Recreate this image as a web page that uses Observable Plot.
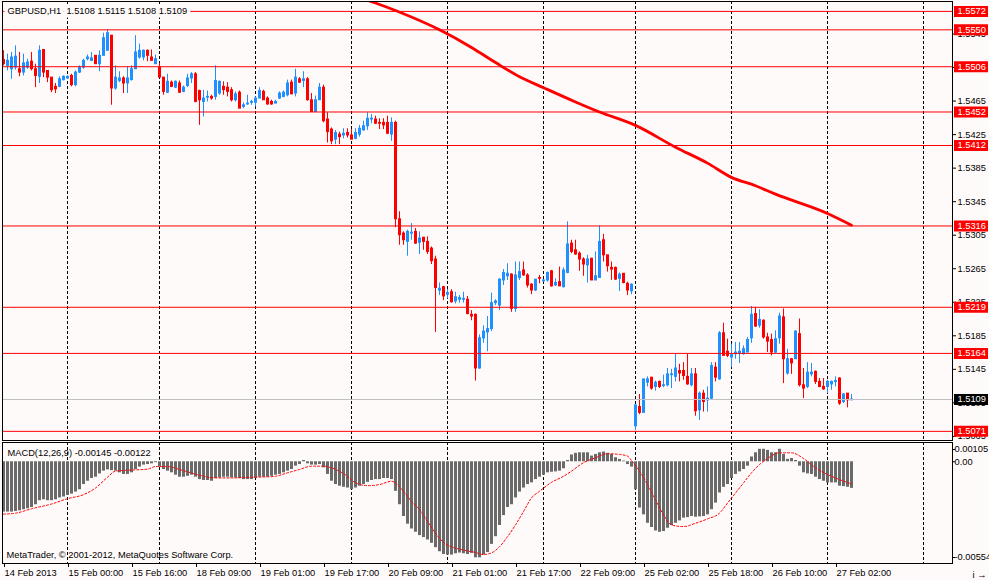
<!DOCTYPE html>
<html>
<head>
<meta charset="utf-8">
<script src="https://cdn.jsdelivr.net/npm/d3@7"></script>
<script src="https://cdn.jsdelivr.net/npm/@observablehq/plot@0.6"></script>
<style>
  html, body { margin: 0; padding: 0; background: #fffafa; }
  #wrap { position: relative; width: 989px; height: 580px; overflow: hidden; background: #fffafa; }
  #main { position: absolute; left: 0; top: 0; }
  #macd { position: absolute; left: 0; top: 441px; }
  svg { display: block; }
</style>
</head>
<body>
<div id="wrap"><div id="main"></div><div id="macd"></div></div>
<script>
// ---- Data (GBPUSD, H1) ----
const symbolTitle = "GBPUSD,H1\u00a0\u00a01.5108 1.5115 1.5108 1.5109";
const macdTitle = "MACD(12,26,9) -0.00145 -0.00122";
const copyright = "MetaTrader, \u00a9 2001-2012, MetaQuotes Software Corp.";

const open = [1.5514,1.5507,1.5503,1.5505,1.5503,1.5499,1.5505,1.5512,1.5503,1.5494,1.5526,1.5501,1.5493,1.5482,1.5482,1.5490,1.5492,1.5495,1.5484,1.5499,1.5505,1.5515,1.5513,1.5519,1.5509,1.5519,1.5525,1.5543,1.5480,1.5489,1.5492,1.5486,1.5490,1.5503,1.5517,1.5517,1.5525,1.5517,1.5509,1.5505,1.5493,1.5475,1.5487,1.5481,1.5486,1.5476,1.5483,1.5492,1.5497,1.5477,1.5464,1.5469,1.5470,1.5470,1.5474,1.5482,1.5481,1.5478,1.5466,1.5475,1.5458,1.5461,1.5463,1.5463,1.5468,1.5476,1.5468,1.5464,1.5462,1.5468,1.5470,1.5472,1.5487,1.5474,1.5491,1.5489,1.5491,1.5466,1.5452,1.5466,1.5481,1.5443,1.5431,1.5419,1.5425,1.5424,1.5427,1.5424,1.5420,1.5425,1.5430,1.5435,1.5443,1.5443,1.5439,1.5439,1.5439,1.5425,1.5439,1.5324,1.5307,1.5297,1.5307,1.5309,1.5296,1.5302,1.5297,1.5289,1.5276,1.5239,1.5243,1.5234,1.5237,1.5226,1.5228,1.5228,1.5228,1.5210,1.5210,1.5146,1.5182,1.5189,1.5193,1.5224,1.5221,1.5251,1.5256,1.5258,1.5217,1.5254,1.5263,1.5257,1.5246,1.5239,1.5254,1.5250,1.5251,1.5262,1.5245,1.5249,1.5243,1.5260,1.5295,1.5287,1.5283,1.5276,1.5269,1.5277,1.5251,1.5254,1.5299,1.5281,1.5266,1.5266,1.5253,1.5259,1.5247,1.5238,1.5077,1.5100,1.5093,1.5129,1.5135,1.5124,1.5130,1.5125,1.5126,1.5138,1.5136,1.5143,1.5143,1.5136,1.5126,1.5139,1.5096,1.5116,1.5108,1.5110,1.5147,1.5133,1.5188,1.5166,1.5159,1.5163,1.5164,1.5163,1.5165,1.5182,1.5211,1.5197,1.5203,1.5183,1.5180,1.5165,1.5182,1.5207,1.5140,1.5157,1.5157,1.5187,1.5126,1.5124,1.5139,1.5142,1.5130,1.5124,1.5124,1.5127,1.5130,1.5134,1.5106,1.5116,1.5108];
const high = [1.5525,1.5521,1.5523,1.5531,1.5523,1.5521,1.5515,1.5523,1.5509,1.5531,1.5526,1.5501,1.5493,1.5486,1.5494,1.5495,1.5495,1.5497,1.5501,1.5507,1.5515,1.5520,1.5523,1.5519,1.5525,1.5546,1.5550,1.5543,1.5507,1.5500,1.5494,1.5506,1.5507,1.5543,1.5533,1.5526,1.5526,1.5526,1.5520,1.5510,1.5493,1.5497,1.5489,1.5489,1.5489,1.5483,1.5497,1.5499,1.5499,1.5478,1.5478,1.5477,1.5472,1.5507,1.5489,1.5488,1.5487,1.5481,1.5476,1.5477,1.5463,1.5472,1.5466,1.5470,1.5481,1.5478,1.5470,1.5466,1.5466,1.5476,1.5477,1.5490,1.5490,1.5503,1.5493,1.5500,1.5493,1.5474,1.5471,1.5486,1.5484,1.5451,1.5433,1.5430,1.5428,1.5432,1.5432,1.5431,1.5432,1.5436,1.5441,1.5451,1.5449,1.5447,1.5444,1.5444,1.5447,1.5445,1.5441,1.5333,1.5309,1.5311,1.5319,1.5313,1.5309,1.5302,1.5303,1.5291,1.5280,1.5248,1.5244,1.5240,1.5240,1.5237,1.5233,1.5237,1.5232,1.5215,1.5211,1.5186,1.5197,1.5208,1.5236,1.5228,1.5253,1.5264,1.5271,1.5259,1.5273,1.5273,1.5273,1.5259,1.5247,1.5252,1.5257,1.5252,1.5261,1.5263,1.5253,1.5267,1.5266,1.5321,1.5299,1.5299,1.5285,1.5278,1.5281,1.5277,1.5285,1.5316,1.5306,1.5281,1.5273,1.5267,1.5260,1.5259,1.5249,1.5247,1.5102,1.5115,1.5133,1.5136,1.5135,1.5131,1.5131,1.5138,1.5146,1.5145,1.5163,1.5151,1.5153,1.5163,1.5146,1.5146,1.5118,1.5120,1.5124,1.5153,1.5153,1.5190,1.5200,1.5181,1.5175,1.5177,1.5177,1.5173,1.5183,1.5220,1.5219,1.5216,1.5204,1.5188,1.5187,1.5191,1.5212,1.5217,1.5169,1.5158,1.5191,1.5205,1.5146,1.5153,1.5152,1.5143,1.5134,1.5134,1.5132,1.5131,1.5136,1.5135,1.5116,1.5116,1.5115];
const low = [1.5507,1.5501,1.5491,1.5502,1.5494,1.5495,1.5503,1.5501,1.5481,1.5486,1.5493,1.5487,1.5475,1.5474,1.5481,1.5489,1.5491,1.5482,1.5482,1.5498,1.5503,1.5513,1.5512,1.5509,1.5500,1.5519,1.5525,1.5460,1.5478,1.5487,1.5474,1.5474,1.5489,1.5503,1.5515,1.5513,1.5512,1.5513,1.5509,1.5493,1.5472,1.5474,1.5481,1.5480,1.5474,1.5475,1.5481,1.5486,1.5463,1.5436,1.5446,1.5464,1.5466,1.5466,1.5472,1.5472,1.5470,1.5464,1.5464,1.5456,1.5456,1.5460,1.5460,1.5458,1.5468,1.5466,1.5460,1.5460,1.5462,1.5467,1.5469,1.5470,1.5473,1.5470,1.5486,1.5481,1.5465,1.5452,1.5452,1.5466,1.5439,1.5415,1.5413,1.5413,1.5413,1.5420,1.5421,1.5419,1.5419,1.5422,1.5429,1.5430,1.5438,1.5437,1.5431,1.5431,1.5425,1.5417,1.5314,1.5293,1.5293,1.5280,1.5299,1.5294,1.5282,1.5287,1.5282,1.5270,1.5189,1.5233,1.5227,1.5229,1.5224,1.5223,1.5224,1.5224,1.5210,1.5203,1.5131,1.5145,1.5176,1.5166,1.5190,1.5221,1.5215,1.5245,1.5251,1.5213,1.5213,1.5251,1.5256,1.5242,1.5234,1.5238,1.5247,1.5249,1.5249,1.5243,1.5244,1.5244,1.5242,1.5259,1.5283,1.5281,1.5262,1.5256,1.5248,1.5251,1.5251,1.5254,1.5273,1.5261,1.5251,1.5251,1.5238,1.5247,1.5233,1.5234,1.5072,1.5091,1.5093,1.5124,1.5120,1.5119,1.5122,1.5123,1.5124,1.5122,1.5130,1.5130,1.5132,1.5126,1.5124,1.5089,1.5084,1.5094,1.5094,1.5109,1.5130,1.5132,1.5161,1.5159,1.5147,1.5157,1.5152,1.5162,1.5165,1.5176,1.5195,1.5194,1.5181,1.5165,1.5161,1.5164,1.5175,1.5128,1.5138,1.5139,1.5157,1.5124,1.5110,1.5122,1.5136,1.5127,1.5123,1.5120,1.5116,1.5120,1.5124,1.5102,1.5104,1.5099,1.5108];
const close = [1.5509,1.5513,1.5517,1.5518,1.5499,1.5510,1.5511,1.5503,1.5495,1.5525,1.5499,1.5493,1.5478,1.5479,1.5491,1.5494,1.5494,1.5484,1.5499,1.5505,1.5513,1.5517,1.5516,1.5509,1.5519,1.5540,1.5546,1.5480,1.5493,1.5492,1.5486,1.5492,1.5503,1.5523,1.5525,1.5525,1.5519,1.5513,1.5515,1.5493,1.5476,1.5488,1.5482,1.5488,1.5475,1.5481,1.5492,1.5497,1.5464,1.5466,1.5468,1.5470,1.5468,1.5489,1.5488,1.5478,1.5476,1.5466,1.5473,1.5456,1.5460,1.5462,1.5464,1.5468,1.5477,1.5466,1.5461,1.5461,1.5464,1.5474,1.5475,1.5486,1.5473,1.5493,1.5487,1.5491,1.5466,1.5452,1.5466,1.5481,1.5441,1.5428,1.5417,1.5427,1.5422,1.5426,1.5424,1.5419,1.5427,1.5432,1.5435,1.5444,1.5444,1.5438,1.5438,1.5436,1.5426,1.5439,1.5324,1.5305,1.5299,1.5309,1.5308,1.5295,1.5301,1.5297,1.5285,1.5274,1.5242,1.5241,1.5232,1.5236,1.5225,1.5231,1.5230,1.5229,1.5211,1.5208,1.5146,1.5182,1.5190,1.5193,1.5224,1.5226,1.5252,1.5260,1.5259,1.5217,1.5257,1.5261,1.5257,1.5245,1.5239,1.5252,1.5253,1.5251,1.5260,1.5244,1.5248,1.5244,1.5263,1.5294,1.5285,1.5282,1.5276,1.5270,1.5276,1.5251,1.5256,1.5297,1.5281,1.5268,1.5264,1.5252,1.5258,1.5248,1.5239,1.5246,1.5102,1.5093,1.5133,1.5133,1.5122,1.5129,1.5124,1.5126,1.5139,1.5139,1.5146,1.5140,1.5137,1.5127,1.5139,1.5095,1.5116,1.5106,1.5110,1.5149,1.5135,1.5188,1.5161,1.5161,1.5162,1.5165,1.5166,1.5169,1.5180,1.5210,1.5196,1.5204,1.5183,1.5178,1.5165,1.5181,1.5208,1.5157,1.5157,1.5152,1.5190,1.5126,1.5122,1.5141,1.5141,1.5130,1.5124,1.5121,1.5130,1.5130,1.5131,1.5104,1.5115,1.5108,1.5109];

// moving average (thick red line), read at sample bars
const maBars = [90, 93, 98, 109, 117, 123, 129, 135, 143, 149, 158, 168, 176, 182, 188, 193, 206, 212];
const maVals = [1.5587, 1.5582, 1.5573, 1.5550, 1.5529, 1.5511, 1.5494, 1.5481, 1.5464, 1.5452, 1.5436, 1.5410, 1.5391, 1.5374, 1.5364, 1.5354, 1.5331, 1.5317];

// MACD histogram (main line), one value per bar
const macdMain = [-0.00274,-0.00274,-0.00274,-0.00271,-0.00267,-0.00261,-0.00256,-0.00249,-0.00234,-0.00212,-0.00207,-0.00212,-0.00212,-0.00207,-0.00197,-0.00192,-0.00183,-0.00176,-0.00165,-0.00152,-0.00124,-0.00106,-0.00091,-0.00084,-0.00066,-0.00051,-0.00044,-0.00048,-0.00051,-0.00060,-0.00069,-0.00069,-0.00060,-0.00042,-0.00029,-0.00018,-0.00015,-0.00011,-0.00005,-0.00029,-0.00042,-0.00051,-0.00060,-0.00073,-0.00084,-0.00084,-0.00079,-0.00073,-0.00084,-0.00097,-0.00102,-0.00102,-0.00106,-0.00091,-0.00088,-0.00084,-0.00084,-0.00088,-0.00088,-0.00091,-0.00097,-0.00097,-0.00097,-0.00091,-0.00084,-0.00084,-0.00084,-0.00079,-0.00073,-0.00069,-0.00060,-0.00051,-0.00042,-0.00024,-0.00015,0.00007,-0.00011,-0.00018,-0.00018,-0.00015,-0.00033,-0.00069,-0.00106,-0.00124,-0.00133,-0.00139,-0.00143,-0.00152,-0.00143,-0.00133,-0.00124,-0.00112,-0.00102,-0.00097,-0.00097,-0.00091,-0.00091,-0.00097,-0.00161,-0.00234,-0.00298,-0.00340,-0.00366,-0.00384,-0.00402,-0.00413,-0.00426,-0.00444,-0.00468,-0.00490,-0.00505,-0.00508,-0.00508,-0.00501,-0.00497,-0.00501,-0.00505,-0.00499,-0.00523,-0.00523,-0.00508,-0.00494,-0.00450,-0.00408,-0.00347,-0.00293,-0.00249,-0.00234,-0.00197,-0.00165,-0.00143,-0.00124,-0.00115,-0.00097,-0.00084,-0.00073,-0.00060,-0.00057,-0.00055,-0.00051,-0.00038,0.00007,0.00037,0.00046,0.00049,0.00049,0.00049,0.00031,0.00040,0.00049,0.00053,0.00046,0.00040,0.00022,0.00013,0.00004,-0.00015,-0.00029,-0.00152,-0.00252,-0.00289,-0.00335,-0.00358,-0.00377,-0.00384,-0.00380,-0.00362,-0.00347,-0.00335,-0.00322,-0.00307,-0.00304,-0.00298,-0.00302,-0.00300,-0.00298,-0.00289,-0.00261,-0.00225,-0.00170,-0.00139,-0.00124,-0.00091,-0.00069,-0.00055,-0.00042,-0.00024,0.00026,0.00049,0.00068,0.00068,0.00062,0.00049,0.00049,0.00068,0.00040,0.00013,0.00018,0.00007,-0.00024,-0.00060,-0.00066,-0.00069,-0.00084,-0.00097,-0.00106,-0.00115,-0.00115,-0.00115,-0.00133,-0.00135,-0.00139,-0.00145];

// MACD signal line, read at sample bars
const sigBars = [0,3,7,12,16,20,23,26,28,31,36,38,41,44,49,53,57,62,66,68,71,74,77,80,82,86,88,91,94,97,98,100,102,104,106,108,110,112,115,118,120,122,124,126,128,130,132,134,137,140,142,145,148,151,154,156,157,159,161,163,165,167,170,173,176,179,181,183,185,187,189,191,194,197,200,203,206,209,212];
const sigVals = [-0.00285,-0.00280,-0.00256,-0.00230,-0.00201,-0.00179,-0.00143,-0.00084,-0.00051,-0.00046,-0.00040,-0.00026,-0.00026,-0.00042,-0.00073,-0.00088,-0.00088,-0.00084,-0.00082,-0.00079,-0.00060,-0.00042,-0.00024,-0.00024,-0.00033,-0.00079,-0.00115,-0.00130,-0.00124,-0.00106,-0.00115,-0.00161,-0.00216,-0.00261,-0.00325,-0.00389,-0.00439,-0.00463,-0.00481,-0.00494,-0.00505,-0.00496,-0.00463,-0.00408,-0.00344,-0.00271,-0.00197,-0.00161,-0.00112,-0.00079,-0.00051,-0.00005,0.00022,0.00044,0.00040,0.00031,0.00007,-0.00051,-0.00124,-0.00207,-0.00289,-0.00344,-0.00353,-0.00335,-0.00311,-0.00280,-0.00225,-0.00170,-0.00115,-0.00060,-0.00015,0.00018,0.00049,0.00049,0.00018,-0.00033,-0.00069,-0.00097,-0.00121];

// horizontal levels and price axis
const levels = [1.5572, 1.5550, 1.5506, 1.5452, 1.5412, 1.5316, 1.5219, 1.5164, 1.5071];
const bidPrice = 1.5109;
const priceTicks = [1.5065, 1.5105, 1.5145, 1.5185, 1.5225, 1.5265, 1.5305, 1.5345, 1.5385, 1.5425, 1.5465, 1.5505, 1.5545];

// time axis
const separatorBars = [16, 39, 63, 87, 111, 135, 158, 182, 206, 230];
const labelBars = [0, 16, 32, 48, 64, 80, 96, 112, 128, 144, 160, 176, 192, 208];
const labelTexts = ["14 Feb 2013", "15 Feb 00:00", "15 Feb 16:00", "18 Feb 09:00", "19 Feb 01:00", "19 Feb 17:00", "20 Feb 09:00", "21 Feb 01:00", "21 Feb 17:00", "22 Feb 09:00", "25 Feb 02:00", "25 Feb 18:00", "26 Feb 10:00", "27 Feb 02:00"];
const macdAxisTop = 0.00105, macdAxisBottom = -0.00554;
const macdAxisLabels = [
  {v: macdAxisTop, t: "0.00105", dy: 7},
  {v: 0, t: "0.00", dy: 0},
  {v: macdAxisBottom, t: "-0.00554", dy: -6}
];

// ---- Build tables ----
const BLUE = "#1e90ff", RED = "#ff0000", BG = "#fffafa";
const bars = open.map((o, i) => ({i, open: o, high: high[i], low: low[i], close: close[i]}));
const bull = bars.filter(d => d.close >= d.open);
const bear = bars.filter(d => d.close < d.open);
const ma = maBars.map((b, k) => ({i: b, v: maVals[k]}));
const hist = macdMain.map((v, i) => ({i, v}));
const sig = sigBars.map((b, k) => ({i: b, v: sigVals[k]}));
const labelMap = new Map(labelBars.map((b, k) => [b, labelTexts[k]]));

const xDomain = [-0.25, 237.25];
const font = {fontFamily: "'Liberation Sans', Arial, sans-serif", fontSize: "9.3px", background: BG, color: "black", overflow: "visible"};

const wick = (data, color) => Plot.ruleX(data, {x: "i", y1: "low", y2: "high", stroke: color, strokeWidth: 1});
const body = (data, color) => Plot.ruleX(data, {
  x: "i", y1: d => Math.max(d.open, d.close), y2: d => Math.min(d.open, d.close),
  stroke: color, strokeWidth: 3, insetTop: -0.5, insetBottom: -0.5
});

const main = Plot.plot({
  width: 989, height: 442,
  marginLeft: 2, marginRight: 37, marginTop: 1, marginBottom: 2,
  x: {domain: xDomain, axis: null},
  y: {domain: [1.506008, 1.558381], axis: null},
  style: font,
  marks: [
    Plot.ruleX(separatorBars, {stroke: "black", strokeDasharray: "3,2"}),
    wick(bull, BLUE), wick(bear, RED),
    body(bull, BLUE), body(bear, RED),
    Plot.ruleY([bidPrice], {stroke: "#c0c0c0"}),
    Plot.ruleY(levels, {stroke: RED, strokeWidth: 1}),
    Plot.line(ma, {x: "i", y: "v", stroke: RED, strokeWidth: 2.8, curve: "monotone-x", clip: true}),
    Plot.frame({stroke: "black"}),
    Plot.axisY(priceTicks, {anchor: "right", tickSize: 3, tickPadding: 2, tickFormat: d => d.toFixed(4), fill: "black"}),
    Plot.ruleY(levels, {stroke: RED, strokeWidth: 11, insetLeft: 952, insetRight: -36}),
    Plot.ruleY([bidPrice], {stroke: "black", strokeWidth: 11, insetLeft: 952, insetRight: -36}),
    Plot.text(levels.concat([bidPrice]), {y: d => d, text: d => d.toFixed(4), frameAnchor: "right", dx: 5, textAnchor: "start", fill: "white"}),
    Plot.text([symbolTitle], {text: d => d, frameAnchor: "top-left", dx: 5, dy: 10, textAnchor: "start", lineAnchor: "middle", fill: "black", stroke: BG, strokeWidth: 7})
  ]
});

const macdLabelMarks = macdAxisLabels.flatMap(a => [
  Plot.ruleY([a.v], {stroke: "black", insetLeft: 950, insetRight: -3, dy: a.dy}),
  Plot.text([a], {y: "v", text: "t", frameAnchor: "right", dx: 2, dy: a.dy, textAnchor: "start", fill: "black"})
]);

const macd = Plot.plot({
  width: 989, height: 139,
  marginLeft: 2, marginRight: 37, marginTop: 1, marginBottom: 17,
  x: {domain: xDomain},
  y: {domain: [macdAxisBottom, macdAxisTop], axis: null},
  style: font,
  marks: [
    Plot.ruleX(separatorBars, {stroke: "black", strokeDasharray: "3,2"}),
    Plot.ruleX(hist, {x: "i", y1: 0, y2: "v", stroke: "#6a6a6a", strokeWidth: 3}),
    Plot.line(sig, {x: "i", y: "v", stroke: RED, strokeWidth: 1, strokeDasharray: "2,2", curve: "monotone-x"}),
    Plot.frame({stroke: "black"}),
    ...macdLabelMarks,
    Plot.axisX(labelBars, {anchor: "bottom", tickSize: 4, tickPadding: 2, textAnchor: "start", dx: 1, tickFormat: d => labelMap.get(d), fill: "black"}),
    Plot.text([macdTitle], {text: d => d, frameAnchor: "top-left", dx: 5, dy: 10.5, textAnchor: "start", lineAnchor: "middle", fill: "black"}),
    Plot.text([copyright], {text: d => d, frameAnchor: "bottom-left", dx: 4, dy: -8, textAnchor: "start", lineAnchor: "middle", fill: "black"})
  ]
});

document.getElementById("main").appendChild(main);
document.getElementById("macd").appendChild(macd);
</script>
</body>
</html>
